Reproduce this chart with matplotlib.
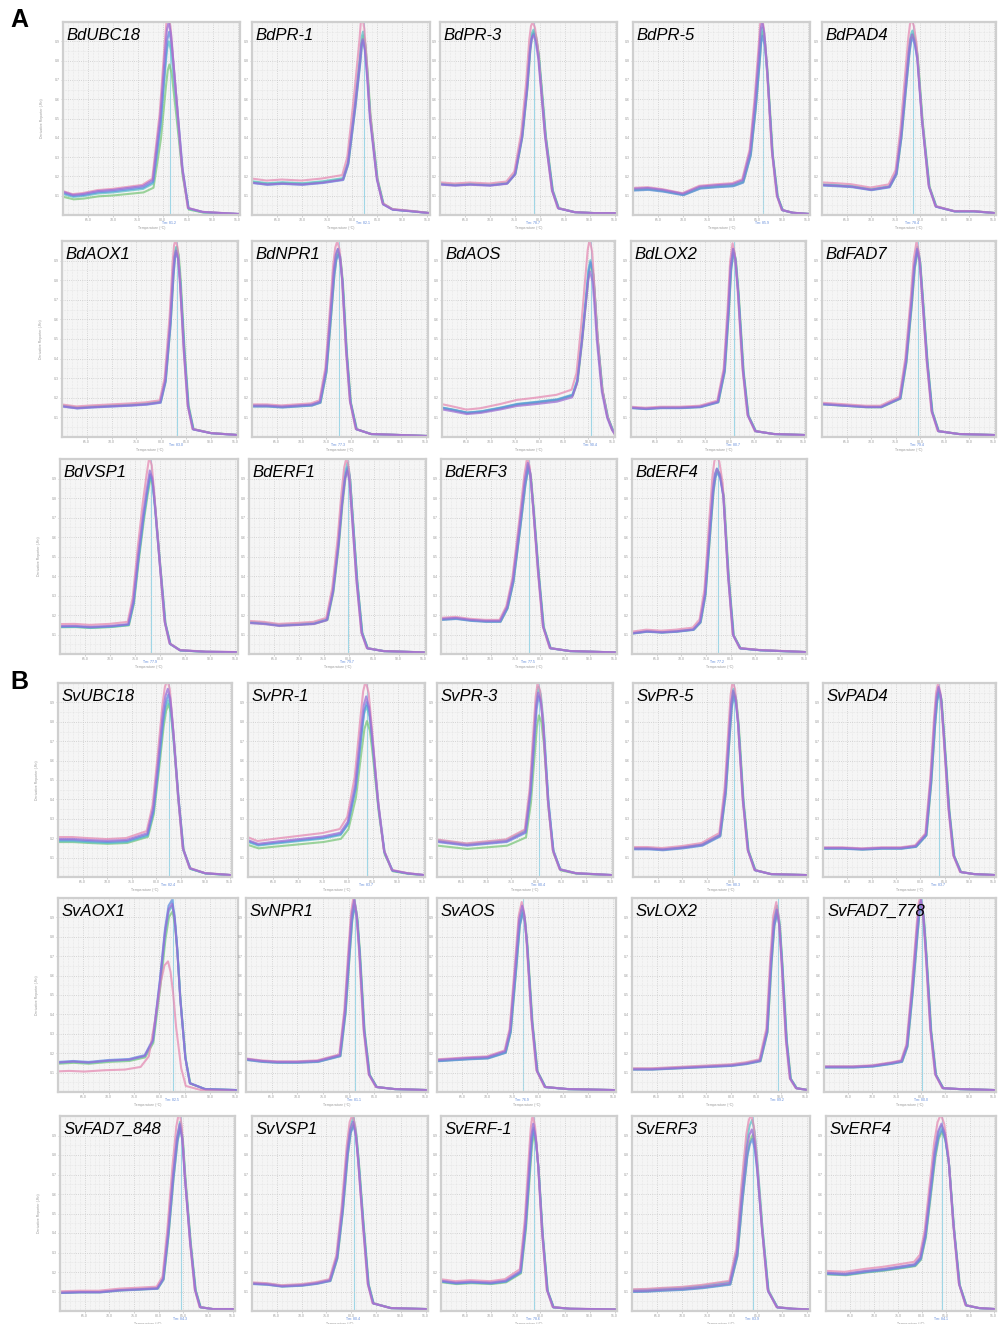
import numpy as np
import matplotlib
matplotlib.use("Agg")
import matplotlib.pyplot as plt
from matplotlib.ticker import MultipleLocator

# ---------------- data (temperature °C, normalised derivative reporter) ----------------
BdUBC18_T = [60, 62, 64, 67, 70, 73, 76, 78, 79.5, 80.5, 80.85, 81.2, 81.65, 82.5, 83.9, 85.1, 88, 92, 95.5]
BdUBC18_Y = [0.12, 0.104, 0.109, 0.124, 0.13, 0.14, 0.15, 0.181, 0.508, 0.855, 0.96, 1.0, 0.94, 0.684, 0.249, 0.036, 0.016, 0.01, 0.005]
BdUBC18_R = [0.78, 0.90, 0.95, 1.04, 1.00]

BdPR1_T = [60, 63, 66, 70, 74, 78.1, 79.1, 80.5, 81.5, 81.8, 82.1, 82.5, 83.0, 83.5, 84.9, 86.1, 88, 92, 95.5]
BdPR1_Y = [0.18, 0.17, 0.175, 0.17, 0.18, 0.197, 0.285, 0.6, 0.855, 0.95, 0.98, 0.92, 0.75, 0.54, 0.197, 0.06, 0.03, 0.02, 0.01]
BdPR1_R = [0.95, 0.97, 0.92, 1.05, 0.93]

BdPR3_T = [60, 63, 66, 70, 73.4, 75.0, 76.4, 77.4, 78.0, 78.35, 78.7, 79.15, 79.7, 81.1, 82.5, 83.7, 87, 91, 95.5]
BdPR3_Y = [0.166, 0.16, 0.165, 0.16, 0.17, 0.22, 0.42, 0.68, 0.89, 0.96, 0.98, 0.95, 0.855, 0.42, 0.13, 0.036, 0.015, 0.01, 0.01]
BdPR3_R = [0.97, 0.98, 0.96, 1.02, 0.95]

BdPR5_T = [60, 63, 66, 70, 73.4, 77, 80, 82, 83.5, 84.5, 85.3, 85.6, 85.9, 86.35, 86.9, 87.9, 88.9, 89.9, 92, 95.5]
BdPR5_Y = [0.136, 0.14, 0.13, 0.11, 0.147, 0.155, 0.16, 0.18, 0.33, 0.59, 0.85, 0.96, 1.0, 0.94, 0.76, 0.33, 0.10, 0.026, 0.012, 0.005]
BdPR5_R = [0.95, 0.97, 0.93, 1.03, 1.00]

BdPAD4_T = [60, 63, 66, 70, 73.7, 75.1, 76.1, 77.1, 77.7, 78.05, 78.4, 78.85, 79.4, 80.4, 81.8, 83.2, 87, 91, 95.5]
BdPAD4_Y = [0.164, 0.16, 0.155, 0.138, 0.154, 0.225, 0.43, 0.72, 0.89, 0.96, 0.985, 0.95, 0.86, 0.51, 0.154, 0.046, 0.02, 0.02, 0.01]
BdPAD4_R = [0.95, 0.97, 0.93, 1.03, 0.95]

BdAOX1_T = [60, 63, 66, 70, 74, 77, 79.8, 80.8, 81.8, 82.4, 82.7, 83.0, 83.4, 83.8, 84.6, 85.4, 86.4, 90, 95.5]
BdAOX1_Y = [0.16, 0.15, 0.155, 0.16, 0.165, 0.17, 0.18, 0.29, 0.59, 0.85, 0.94, 0.97, 0.93, 0.8, 0.44, 0.16, 0.04, 0.02, 0.01]
BdAOX1_R = [1.00, 1.00, 0.97, 1.04, 0.98]

BdNPR1_T = [60, 63, 66, 69, 72, 73.7, 74.9, 75.7, 76.5, 76.9, 77.3, 77.75, 78.2, 79.0, 79.8, 81.0, 84, 90, 95.5]
BdNPR1_Y = [0.16, 0.16, 0.155, 0.16, 0.165, 0.18, 0.34, 0.59, 0.85, 0.93, 0.96, 0.92, 0.8, 0.44, 0.18, 0.04, 0.015, 0.01, 0.005]
BdNPR1_R = [0.98, 1.00, 0.97, 1.04, 1.00]

BdAOS_T = [60, 62, 65.1, 68, 72, 75.4, 79, 83.6, 86.7, 87.7, 88.7, 89.5, 90.0, 90.4, 90.9, 91.3, 91.8, 92.8, 93.9, 94.9, 95.5]
BdAOS_Y = [0.16, 0.15, 0.133, 0.14, 0.16, 0.18, 0.19, 0.205, 0.23, 0.31, 0.55, 0.77, 0.91, 0.96, 0.9, 0.76, 0.55, 0.26, 0.11, 0.04, 0.015]
BdAOS_R = [0.92, 0.94, 0.93, 1.05, 0.88]

BdLOX2_T = [60, 63, 66, 70, 74, 77.6, 78.9, 79.7, 80.2, 80.7, 81.15, 81.7, 82.7, 83.7, 85.2, 89, 95.5]
BdLOX2_Y = [0.15, 0.145, 0.15, 0.15, 0.155, 0.18, 0.34, 0.64, 0.87, 0.96, 0.91, 0.74, 0.34, 0.11, 0.03, 0.015, 0.01]
BdLOX2_R = [0.99, 1.00, 0.98, 1.03, 1.00]

BdFAD7_T = [60, 63, 66, 69, 72, 75.9, 77.1, 78.2, 78.8, 79.4, 79.9, 80.4, 81.4, 82.4, 83.7, 88, 95.5]
BdFAD7_Y = [0.17, 0.165, 0.16, 0.155, 0.155, 0.2, 0.39, 0.69, 0.88, 0.97, 0.91, 0.74, 0.39, 0.13, 0.03, 0.015, 0.01]
BdFAD7_R = [0.98, 1.00, 0.98, 1.03, 0.99]

BdVSP1_T = [60, 63, 66, 70, 73.6, 74.6, 75.6, 76.6, 77.3, 77.9, 78.4, 78.9, 79.9, 80.9, 81.9, 83.9, 89, 95.5]
BdVSP1_Y = [0.149, 0.15, 0.145, 0.15, 0.16, 0.28, 0.53, 0.75, 0.88, 0.98, 0.94, 0.80, 0.48, 0.17, 0.055, 0.02, 0.012, 0.01]
BdVSP1_R = [0.92, 0.93, 0.94, 1.03, 0.96]

BdERF1_T = [60, 63, 66, 70, 73, 75.6, 76.8, 77.9, 78.6, 79.2, 79.7, 80.15, 80.6, 81.6, 82.6, 83.7, 87, 95.5]
BdERF1_Y = [0.165, 0.16, 0.15, 0.155, 0.16, 0.18, 0.33, 0.58, 0.79, 0.93, 0.98, 0.92, 0.75, 0.38, 0.11, 0.03, 0.015, 0.008]
BdERF1_R = [0.97, 1.00, 0.98, 1.03, 0.96]

BdERF3_T = [60, 63, 66, 69, 71.9, 73.3, 74.5, 75.9, 76.9, 77.5, 78.0, 78.6, 79.6, 80.6, 82, 86, 95.5]
BdERF3_Y = [0.18, 0.185, 0.175, 0.17, 0.17, 0.24, 0.38, 0.67, 0.89, 0.98, 0.93, 0.75, 0.42, 0.14, 0.03, 0.015, 0.008]
BdERF3_R = [0.98, 0.99, 0.97, 1.03, 1.00]

BdERF4_T = [60, 63, 66, 69, 72.4, 73.8, 74.8, 75.8, 76.4, 76.8, 77.2, 77.8, 78.5, 79.5, 80.5, 81.9, 86, 95.5]
BdERF4_Y = [0.11, 0.12, 0.115, 0.12, 0.13, 0.17, 0.32, 0.67, 0.87, 0.95, 0.98, 0.95, 0.84, 0.41, 0.10, 0.03, 0.02, 0.01]
BdERF4_R = [0.96, 0.97, 0.95, 1.04, 0.97]

SvUBC18_T = [60, 63, 66, 70, 74, 78.2, 79.4, 80.4, 81.4, 81.9, 82.4, 82.9, 83.5, 84.5, 85.5, 86.9, 90, 95.5]
SvUBC18_Y = [0.20, 0.20, 0.195, 0.19, 0.195, 0.23, 0.36, 0.60, 0.86, 0.95, 0.99, 0.94, 0.77, 0.43, 0.15, 0.046, 0.02, 0.01]
SvUBC18_R = [0.90, 0.92, 0.95, 1.03, 0.98]

SvPR1_T = [60, 62, 65, 70, 75, 78.5, 80, 81.5, 82.7, 83.2, 83.7, 84.3, 84.9, 86.1, 87.3, 88.9, 92, 95.5]
SvPR1_Y = [0.20, 0.18, 0.19, 0.205, 0.22, 0.24, 0.30, 0.50, 0.81, 0.93, 0.98, 0.92, 0.76, 0.40, 0.14, 0.036, 0.02, 0.01]
SvPR1_R = [0.82, 0.90, 0.92, 1.03, 0.95]

SvPR3_T = [60, 63, 66, 70, 74, 77.8, 78.8, 79.6, 80.0, 80.4, 80.9, 81.4, 82.4, 83.4, 84.8, 88, 95.5]
SvPR3_Y = [0.19, 0.18, 0.17, 0.18, 0.19, 0.24, 0.45, 0.76, 0.91, 0.98, 0.94, 0.81, 0.40, 0.14, 0.04, 0.02, 0.01]
SvPR3_R = [0.85, 1.00, 0.95, 1.02, 0.97]

SvPR5_T = [60, 63, 66, 70, 74, 77.6, 78.7, 79.5, 79.9, 80.3, 80.8, 81.3, 82.3, 83.3, 84.7, 88, 95.5]
SvPR5_Y = [0.15, 0.15, 0.145, 0.155, 0.17, 0.22, 0.45, 0.76, 0.91, 0.98, 0.94, 0.81, 0.40, 0.14, 0.036, 0.015, 0.01]
SvPR5_R = [0.97, 0.99, 0.95, 1.03, 0.98]

SvPAD4_T = [60, 64, 68, 72, 76, 79, 81.1, 82.1, 82.9, 83.3, 83.7, 84.2, 84.7, 85.8, 86.8, 88.2, 91, 95.5]
SvPAD4_Y = [0.15, 0.15, 0.145, 0.15, 0.15, 0.16, 0.22, 0.50, 0.81, 0.93, 0.98, 0.93, 0.76, 0.35, 0.11, 0.026, 0.015, 0.01]
SvPAD4_R = [0.98, 0.99, 0.97, 1.02, 1.00]

SvAOX1_T = [60, 63, 66, 70, 74, 77.1, 78.7, 80.1, 81.1, 81.8, 82.5, 83.0, 83.5, 84.1, 85.1, 86.0, 89, 95.5]
SvAOX1_Y = [0.155, 0.16, 0.155, 0.165, 0.17, 0.19, 0.27, 0.58, 0.84, 0.96, 0.99, 0.91, 0.75, 0.49, 0.18, 0.046, 0.015, 0.01]
SvAOX1_R = [0.94, 0.97, 1.00, 0.68, 0.98]

SvNPR1_T = [60, 63, 66, 70, 74, 78.3, 79.3, 80.1, 80.6, 81.1, 81.6, 82.1, 83.0, 84.0, 85.4, 89, 95.5]
SvNPR1_Y = [0.17, 0.16, 0.155, 0.155, 0.16, 0.19, 0.42, 0.73, 0.91, 0.99, 0.91, 0.73, 0.32, 0.09, 0.026, 0.015, 0.01]
SvNPR1_R = [0.98, 1.00, 0.97, 1.02, 1.00]

SvAOS_T = [60, 63, 66, 70, 73.5, 74.5, 75.5, 76.3, 76.9, 77.35, 77.8, 78.8, 79.8, 81.4, 86, 95.5]
SvAOS_Y = [0.165, 0.17, 0.175, 0.18, 0.21, 0.32, 0.63, 0.89, 0.96, 0.91, 0.78, 0.37, 0.11, 0.026, 0.015, 0.01]
SvAOS_R = [0.97, 0.98, 0.96, 1.02, 1.00]

SvLOX2_T = [60, 64, 68, 72, 76, 80, 83, 85.8, 87.2, 88.0, 88.6, 89.2, 89.7, 90.2, 91.1, 91.9, 93.1, 95.5]
SvLOX2_Y = [0.12, 0.12, 0.125, 0.13, 0.135, 0.14, 0.15, 0.165, 0.32, 0.68, 0.89, 0.96, 0.88, 0.68, 0.27, 0.07, 0.02, 0.01]
SvLOX2_R = [0.97, 1.00, 0.96, 1.02, 0.98]

SvFAD7778_T = [60, 63, 66, 70, 74, 76, 77.1, 78.2, 79.2, 79.6, 80.0, 80.5, 81.0, 82.0, 83.0, 84.5, 88, 95.5]
SvFAD7778_Y = [0.13, 0.13, 0.13, 0.135, 0.15, 0.16, 0.24, 0.53, 0.84, 0.95, 0.99, 0.91, 0.73, 0.32, 0.09, 0.02, 0.015, 0.01]
SvFAD7778_R = [0.98, 1.00, 0.97, 1.02, 1.00]

SvFAD7848_T = [60, 64, 68, 72, 76, 79.7, 80.9, 81.9, 82.9, 83.7, 84.3, 84.8, 85.3, 86.4, 87.4, 88.4, 91, 95.5]
SvFAD7848_Y = [0.097, 0.10, 0.10, 0.11, 0.115, 0.12, 0.17, 0.41, 0.71, 0.91, 0.99, 0.91, 0.71, 0.36, 0.11, 0.02, 0.01, 0.01]
SvFAD7848_R = [0.96, 0.98, 0.95, 1.04, 0.97]

SvVSP1_T = [60, 63, 66, 70, 73, 75.7, 77.1, 78.2, 79.2, 79.8, 80.4, 80.9, 81.4, 82.4, 83.4, 84.4, 88, 95.5]
SvVSP1_Y = [0.144, 0.14, 0.13, 0.135, 0.145, 0.16, 0.28, 0.53, 0.83, 0.95, 0.99, 0.93, 0.79, 0.45, 0.14, 0.04, 0.015, 0.01]
SvVSP1_R = [0.97, 1.00, 0.96, 1.02, 0.98]

SvERF1_T = [60, 63, 66, 70, 73, 76, 77, 77.8, 78.2, 78.6, 79.1, 79.6, 80.4, 81.4, 82.6, 86, 95.5]
SvERF1_Y = [0.16, 0.15, 0.155, 0.15, 0.16, 0.21, 0.46, 0.77, 0.92, 0.99, 0.92, 0.77, 0.42, 0.11, 0.02, 0.012, 0.008]
SvERF1_R = [0.92, 0.95, 0.94, 1.02, 0.97]

SvERF3_T = [60, 63, 66, 70, 74, 79.5, 80.9, 81.9, 82.9, 83.4, 83.9, 84.4, 84.9, 85.9, 87.1, 88.9, 92, 95.5]
SvERF3_Y = [0.108, 0.11, 0.115, 0.12, 0.13, 0.15, 0.31, 0.62, 0.88, 0.95, 0.98, 0.92, 0.79, 0.45, 0.11, 0.02, 0.012, 0.008]
SvERF3_R = [0.92, 1.00, 0.90, 1.03, 0.95]

SvERF4_T = [60, 64, 68.3, 72, 76, 78.5, 79.7, 80.7, 81.7, 82.7, 83.4, 84.1, 84.8, 85.6, 86.6, 87.8, 89.2, 92, 95.5]
SvERF4_Y = [0.20, 0.195, 0.21, 0.22, 0.235, 0.245, 0.28, 0.40, 0.62, 0.84, 0.94, 0.98, 0.93, 0.79, 0.45, 0.14, 0.03, 0.015, 0.01]
SvERF4_R = [0.94, 0.97, 0.95, 1.03, 0.98]

# replicate temperature offsets (°C), order: green, cyan, blue, pink, purple
REP_SHIFT_DEFAULT = [0.15, 0.05, 0.10, -0.10, 0.0]
REP_SHIFT_SPECIAL = {"SvAOX1": [0.1, 0.05, 0.0, -0.8, 0.0]}

GENES_A = [["BdUBC18", "BdPR-1", "BdPR-3", "BdPR-5", "BdPAD4"],
           ["BdAOX1", "BdNPR1", "BdAOS", "BdLOX2", "BdFAD7"],
           ["BdVSP1", "BdERF1", "BdERF3", "BdERF4"]]
GENES_B = [["SvUBC18", "SvPR-1", "SvPR-3", "SvPR-5", "SvPAD4"],
           ["SvAOX1", "SvNPR1", "SvAOS", "SvLOX2", "SvFAD7_778"],
           ["SvFAD7_848", "SvVSP1", "SvERF-1", "SvERF3", "SvERF4"]]

CURVES = {
    "BdUBC18": (BdUBC18_T, BdUBC18_Y, BdUBC18_R), "BdPR-1": (BdPR1_T, BdPR1_Y, BdPR1_R),
    "BdPR-3": (BdPR3_T, BdPR3_Y, BdPR3_R), "BdPR-5": (BdPR5_T, BdPR5_Y, BdPR5_R),
    "BdPAD4": (BdPAD4_T, BdPAD4_Y, BdPAD4_R), "BdAOX1": (BdAOX1_T, BdAOX1_Y, BdAOX1_R),
    "BdNPR1": (BdNPR1_T, BdNPR1_Y, BdNPR1_R), "BdAOS": (BdAOS_T, BdAOS_Y, BdAOS_R),
    "BdLOX2": (BdLOX2_T, BdLOX2_Y, BdLOX2_R), "BdFAD7": (BdFAD7_T, BdFAD7_Y, BdFAD7_R),
    "BdVSP1": (BdVSP1_T, BdVSP1_Y, BdVSP1_R), "BdERF1": (BdERF1_T, BdERF1_Y, BdERF1_R),
    "BdERF3": (BdERF3_T, BdERF3_Y, BdERF3_R), "BdERF4": (BdERF4_T, BdERF4_Y, BdERF4_R),
    "SvUBC18": (SvUBC18_T, SvUBC18_Y, SvUBC18_R), "SvPR-1": (SvPR1_T, SvPR1_Y, SvPR1_R),
    "SvPR-3": (SvPR3_T, SvPR3_Y, SvPR3_R), "SvPR-5": (SvPR5_T, SvPR5_Y, SvPR5_R),
    "SvPAD4": (SvPAD4_T, SvPAD4_Y, SvPAD4_R), "SvAOX1": (SvAOX1_T, SvAOX1_Y, SvAOX1_R),
    "SvNPR1": (SvNPR1_T, SvNPR1_Y, SvNPR1_R), "SvAOS": (SvAOS_T, SvAOS_Y, SvAOS_R),
    "SvLOX2": (SvLOX2_T, SvLOX2_Y, SvLOX2_R), "SvFAD7_778": (SvFAD7778_T, SvFAD7778_Y, SvFAD7778_R),
    "SvFAD7_848": (SvFAD7848_T, SvFAD7848_Y, SvFAD7848_R), "SvVSP1": (SvVSP1_T, SvVSP1_Y, SvVSP1_R),
    "SvERF-1": (SvERF1_T, SvERF1_Y, SvERF1_R), "SvERF3": (SvERF3_T, SvERF3_Y, SvERF3_R),
    "SvERF4": (SvERF4_T, SvERF4_Y, SvERF4_R),
}

X_TICKS = [65, 70, 75, 80, 85, 90, 95]
Y_TICKS = [0.1, 0.2, 0.3, 0.4, 0.5, 0.6, 0.7, 0.8, 0.9]

# ---------------- layout (pixel boxes) ----------------
W, H = 998, 1324
ROWS_A = [([(63, 240), (252, 430), (440, 617), (633, 810), (822, 996)], (22, 215)),
          ([(62, 238), (252, 428), (442, 615), (631, 806), (822, 996)], (241, 437)),
          ([(60, 238), (249, 426), (441, 617), (632, 807)], (459, 654))]
ROWS_B = [([(58, 232), (248, 425), (437, 613), (633, 808), (823, 996)], (683, 877)),
          ([(58, 238), (246, 428), (437, 616), (632, 808), (824, 996)], (898, 1092)),
          ([(60, 235), (252, 428), (441, 617), (632, 810), (826, 996)], (1116, 1311))]

REP_COLORS = ["#7cc77c", "#5cc3c9", "#5f8fe0", "#e58cb4", "#9a6dd6"]
TINY = 2.5

plt.rcParams["font.family"] = ["Liberation Sans", "DejaVu Sans"]
fig = plt.figure(figsize=(W / 100, H / 100), dpi=100)
fig.patch.set_facecolor("white")


def draw_panel(name, xb, yb, first_col):
    x0, x1 = xb
    y0, y1 = yb
    ax = fig.add_axes([x0 / W, 1 - y1 / H, (x1 - x0) / W, (y1 - y0) / H])
    ax.set_facecolor("#f5f5f5")
    T, Y, R = CURVES[name]
    T = np.asarray(T, float)
    Y = np.asarray(Y, float)
    shifts = REP_SHIFT_SPECIAL.get(name, REP_SHIFT_DEFAULT)
    for c, s, dT in zip(REP_COLORS, R, shifts):
        ax.plot(T + dT, Y * s, color=c, lw=1.5, alpha=0.75,
                solid_joinstyle="round", solid_capstyle="round")
    tm = T[int(np.argmax(Y))]
    ax.axvline(tm + 0.2, color="#9fd6e6", lw=0.8, zorder=0.5)
    ax.set_xlim(60, 95.5)
    ax.set_ylim(0, 1.0)
    ax.set_xticks(X_TICKS)
    ax.set_xticklabels([f"{v:.1f}" for v in X_TICKS])
    ax.set_yticks(Y_TICKS)
    ax.set_yticklabels([f"{v:.1f}" for v in Y_TICKS])
    ax.xaxis.set_minor_locator(MultipleLocator(1.0))
    ax.yaxis.set_minor_locator(MultipleLocator(0.05))
    ax.grid(which="major", color="#c9c9c9", ls=":", lw=0.6)
    ax.grid(which="minor", color="#dadada", ls=":", lw=0.4)
    ax.tick_params(which="both", length=1.2, width=0.4, colors="#b0b0b0",
                   labelsize=TINY, labelcolor="#9a9a9a", pad=1.2)
    ax.tick_params(which="minor", length=0)
    for sp in ax.spines.values():
        sp.set_color("#cfcfcf")
        sp.set_linewidth(1.6)
    ax.text(0.5, -0.058, "Temperature (°C)", transform=ax.transAxes, ha="center",
            va="top", fontsize=TINY, color="#9a9a9a")
    ax.text(tm, -0.03, f"Tm: {tm:.1f}", transform=ax.get_xaxis_transform(), ha="center",
            va="top", fontsize=TINY, color="#5b86d8")
    if first_col:
        ax.set_ylabel("Derivative Reporter (-Rn)", fontsize=TINY, color="#9a9a9a", labelpad=8)
    ax.text(0.02, 0.97, name, transform=ax.transAxes, ha="left", va="top",
            fontsize=12, fontstyle="italic", color="black", clip_on=False, zorder=5)


for genes_rows, rows in ((GENES_A, ROWS_A), (GENES_B, ROWS_B)):
    for genes, (xbs, yb) in zip(genes_rows, rows):
        for j, (g, xb) in enumerate(zip(genes, xbs)):
            draw_panel(g, xb, yb, j == 0)

fig.text(10 / W, 1 - 8 / H, "A", fontsize=18, fontweight="bold", ha="left", va="top")
fig.text(10 / W, 1 - 670 / H, "B", fontsize=18, fontweight="bold", ha="left", va="top")

fig.savefig("out.png", dpi=100, facecolor="white")
